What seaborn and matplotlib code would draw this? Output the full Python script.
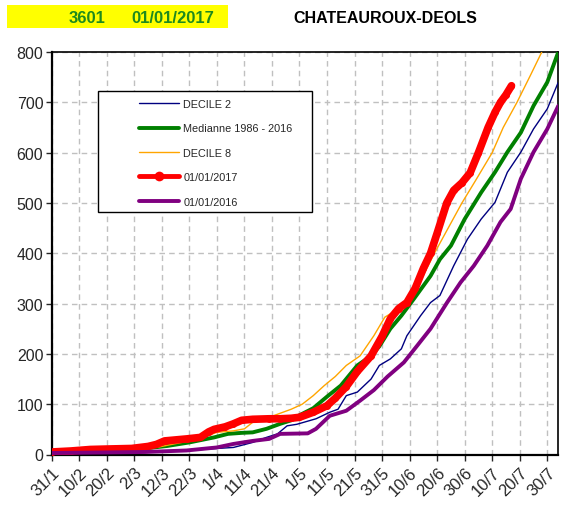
import numpy as np
import pandas as pd
import seaborn as sns
import matplotlib.pyplot as plt
from matplotlib.patches import Rectangle

# day-of-year values
tick_labels = ['31/1', '10/2', '20/2', '2/3', '12/3', '22/3', '1/4', '11/4', '21/4', '1/5',
               '11/5', '21/5', '31/5', '10/6', '20/6', '30/6', '10/7', '20/7', '30/7']

decile2_days = [31, 50, 65, 80, 91, 97, 104, 109, 113, 116.5, 120, 127, 132, 135, 138, 142, 147, 150,
                154, 158, 160, 165, 168.6, 172, 177, 182, 187, 192, 196.5, 201.4, 206, 211, 215]
decile2_vals = [3, 4, 5, 8, 12, 14, 24, 34, 41, 57, 60, 71, 84, 90, 117, 124, 150, 177,
                190, 210, 236, 276, 302, 316, 375, 428, 468, 501, 561, 601, 647, 687, 740]

median_days = [31, 45, 55, 63, 73, 81, 90, 95, 100, 104, 109, 114, 118, 121, 126, 131, 136, 142, 147,
               150, 154, 158, 162.5, 168.6, 172, 176, 181, 187, 192, 196.5, 201.4, 206, 211, 215]
median_vals = [3, 6, 8, 11, 17, 24, 34, 41, 43, 44, 51, 61, 68, 78, 92, 115, 137, 177, 196,
               215, 250, 276, 309, 355, 388, 415, 468, 521, 561, 601, 640, 693, 740, 800]

decile8_days = [31, 45, 60, 70, 80, 88, 91, 97, 101, 104, 110, 115, 118, 122, 126, 130, 134, 138, 143,
                148, 152, 155, 160, 165, 170, 175, 180, 185, 191, 195, 200, 205, 209]
decile8_vals = [4, 8, 11, 15, 26, 38, 44, 47, 51, 64, 74, 84, 90, 100, 117, 137, 155, 177, 196,
                236, 273, 283, 305, 345, 400, 450, 500, 545, 600, 650, 700, 755, 800]

y2017_days = [31, 38, 45, 52, 60, 66, 69, 72, 80, 85, 88, 90, 94, 97, 100, 104, 110, 114, 118, 121,
              126, 131, 134, 138, 142, 147, 151, 154, 157, 160, 163, 166, 168.6, 171, 174.5, 177,
              180, 183, 186, 189.5, 192, 194, 196, 198]
y2017_vals = [5, 7, 10, 11, 12, 16, 20, 27, 31, 34, 45, 50, 55, 61, 68, 70, 71, 71, 72, 74,
              84, 97, 112, 135, 165, 196, 235, 270, 290, 302, 330, 370, 400, 440, 500, 525,
              540, 560, 600, 650, 680, 700, 715, 733]

y2016_days = [31, 50, 65, 80, 91, 97, 104, 110, 114, 124, 127, 132, 138, 143, 148, 153, 158.9,
              163.7, 168.6, 174.6, 179.5, 184.3, 189.2, 194, 197.7, 201.4, 206, 211, 215]
y2016_vals = [3, 4, 5, 8, 14, 21, 27, 31, 41, 42, 51, 77, 87, 107, 128, 155, 183,
              216, 250, 302, 342, 375, 415, 462, 488, 548, 601, 647, 693]

series = [
    ('DECILE 2', decile2_days, decile2_vals, '#000080', 1.0, None),
    ('Medianne 1986 - 2016', median_days, median_vals, '#008000', 2.8, None),
    ('DECILE 8', decile8_days, decile8_vals, '#FFA500', 1.0, None),
    ('01/01/2017', y2017_days, y2017_vals, '#FF0000', 5.5, 'o'),
    ('01/01/2016', y2016_days, y2016_vals, '#800080', 2.8, None),
]

sns.set_style('white')
plt.rcParams['font.family'] = ['Liberation Sans', 'DejaVu Sans']

fig = plt.figure(figsize=(5.63, 5.06), dpi=100)
W, H = 563, 506
ax = fig.add_axes([51.7 / W, 1 - 455.5 / H, (558.3 - 51.7) / W, (455.5 - 53) / H])

for i, (label, days, vals, color, lw, marker) in enumerate(series):
    df = pd.DataFrame({'day': days, 'val': vals})
    kw = {}
    if marker:
        kw = dict(marker=marker, markersize=5, markeredgewidth=0)
    sns.lineplot(data=df, x='day', y='val', ax=ax, color=color, linewidth=lw,
                 label=label, zorder=3 + i, **kw)

ax.set_xlim(31, 215)
ax.set_ylim(0, 800)
ax.set_yticks(np.arange(0, 801, 100))
ax.set_xticks([31 + 10 * i for i in range(len(tick_labels))])
ax.set_xticklabels(tick_labels, rotation=45, ha='right', va='top', rotation_mode='anchor')
ax.set_xlabel('')
ax.set_ylabel('')
ax.tick_params(axis='y', labelsize=11.5, length=4, width=1, direction='out', left=True, pad=2)
ax.tick_params(axis='x', labelsize=12, length=4, width=1, direction='out', bottom=True, pad=3)

ax.grid(True, color='#c0c0c0', linestyle=(0, (4, 3)), linewidth=1)
ax.set_axisbelow(True)
for side in ['left', 'bottom']:
    ax.spines[side].set_linewidth(1.6)
    ax.spines[side].set_color('black')
for side in ['top', 'right']:
    ax.spines[side].set_linewidth(1.2)
    ax.spines[side].set_color('black')

# legend box
box = Rectangle((98.3 / W, 1 - 213.3 / H), (312 - 98.3) / W, (213.3 - 92.3) / H,
                transform=fig.transFigure, facecolor='white', edgecolor='black',
                linewidth=1, zorder=10)
ax.add_patch(box)
handles, labels = ax.get_legend_handles_labels()
leg = ax.legend(handles, labels, loc='upper left',
                bbox_to_anchor=((139.3 - 51.7) / (558.3 - 51.7), (455.5 - 100) / 402.5),
                frameon=False, fontsize=7.8, handlelength=3.7, handletextpad=0.35,
                labelspacing=1.33, borderpad=0, borderaxespad=0, numpoints=1)
leg.set_zorder(11)
leg_lines = leg.get_lines()
leg_lines[3].set_linewidth(3.5)
leg_lines[3].set_markersize(7)

# header
fig.patches.append(Rectangle((7.3 / W, 1 - 29 / H), (228.3 - 7.3) / W, 23 / H,
                             transform=fig.transFigure, facecolor='#FFFF00', edgecolor='none'))
fig.text(69 / W, 1 - 18.5 / H, '3601', color='#1E8A1E', fontsize=12, fontweight='bold', va='center')
fig.text(131.7 / W, 1 - 18.5 / H, '01/01/2017', color='#1E8A1E', fontsize=12, fontweight='bold', va='center')
fig.text(385 / W, 1 - 18.8 / H, 'CHATEAUROUX-DEOLS', color='black', fontsize=11.5,
         fontweight='bold', ha='center', va='center')

fig.savefig('out.png', dpi=100)
